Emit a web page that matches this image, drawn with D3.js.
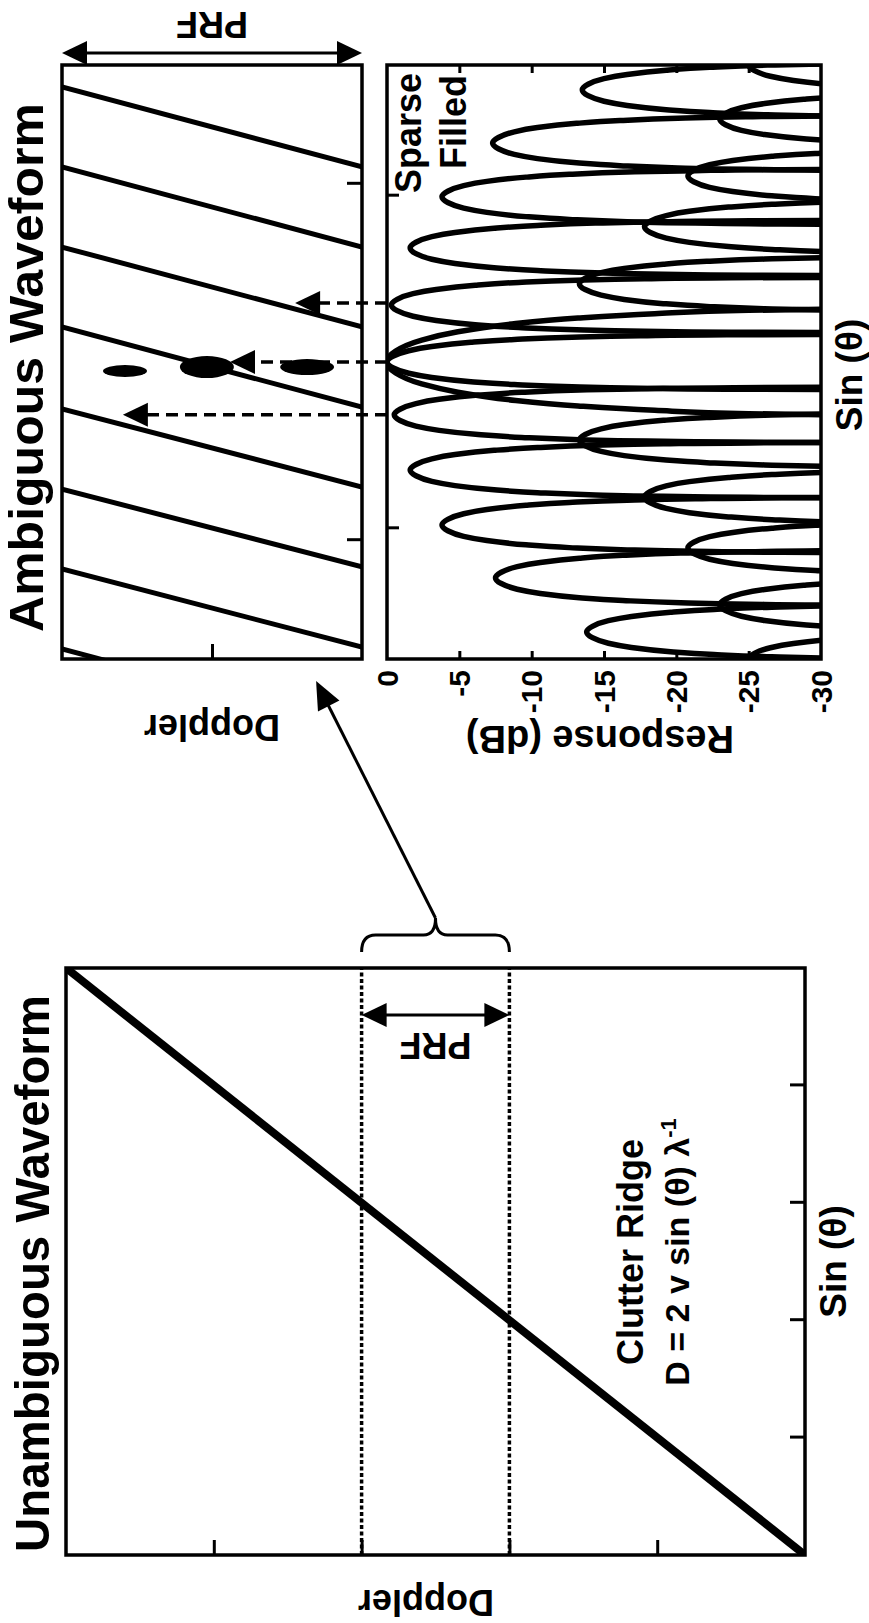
<!DOCTYPE html>
<html>
<head>
<meta charset="utf-8">
<script src="https://cdn.jsdelivr.net/npm/d3@7"></script>
<style>
  body { margin: 0; background: #fff; }
  text { font-family: "Liberation Sans", Arial, Helvetica, sans-serif; font-weight: bold; fill: #000; }
</style>
</head>
<body>
<svg id="fig" width="869" height="1623"></svg>
<script>
// ---- data ----

// left panel, unambiguous waveform (normalised units)
var leftSinTicks = [-0.6, -0.2, 0.2, 0.6];
var leftDopTicks = [-0.6, -0.2, 0.2, 0.6];
var ridgeSin = [-1, 1];
var ridgeDop = [-1, 1];
var prfLimits = [0.2, -0.2];

// right panel, ambiguous waveform
var dopSinTicks = [-0.6, 0.6];
var respSinTicks = [-0.56, 0.56];
var dopMidTick = [0.5];
var dbTicks = [0, -5, -10, -15, -20, -25, -30];
// folded clutter ridges: sin(theta) where each one meets Doppler = PRF and Doppler = 0
var foldTopSin = [0.926, 0.657, 0.387, 0.118, -0.158, -0.428, -0.697, -0.966];
var foldBottomSin = [0.657, 0.387, 0.118, -0.152, -0.421, -0.69, -0.96, -1.236];
// blobs on the Doppler map
var blobSin = [-0.03, -0.017, -0.017];
var blobDop = [0.79, 0.517, 0.183];
// dashed arrows from the response peaks
var arrowSin = [0.199, 0, -0.178];
var arrowDop = [0.223, 0.44, 0.797];

// beam pattern lobes: centre (sin theta) and peak (dB)
var sparseSin = [0.916, 0.737, 0.556, 0.384, 0.192, 0, -0.178, -0.364, -0.549, -0.727, -0.909];
var sparseDb = [-13.5, -7.3, -3.8, -1.6, -0.3, 0, -0.5, -1.6, -3.8, -7.5, -13.8];
var filledSin = [1.0, 0.818, 0.626, 0.455, 0.263, 0, -0.263, -0.455, -0.626, -0.818, -1.0];
var filledDb = [-25, -23, -20.8, -17.8, -13.3, 0, -13.3, -17.8, -20.8, -23, -25];
var lobeHalfWidth = 0.095;
var mainHalfWidth = 0.185;
// outline of one lobe: fraction of half width -> dB below its peak
var lobeShape = [[0, 0], [0.2, -0.4], [0.4, -1.5], [0.55, -3.1], [0.7, -5.8], [0.8, -8.8], [0.88, -12.8], [0.93, -17.5], [0.965, -23.5], [0.99, -36]];
var mainShape = [[0, 0], [0.2, -0.6], [0.4, -2.4], [0.55, -4.9], [0.7, -8.9], [0.8, -13.2], [0.88, -18.5], [0.94, -25], [0.98, -35]];

// ---- drawing ----
var W = 869, H = 1623;
var svg = d3.select('#fig');
// figure is built landscape then turned a quarter turn, like the scan
var g = svg.append('g').attr('transform', 'translate(0,' + H + ') rotate(-90)');

function head(tip, from, len, hw) {
  var dx = tip[0] - from[0], dy = tip[1] - from[1];
  var L = Math.sqrt(dx * dx + dy * dy), ux = dx / L, uy = dy / L;
  var bx = tip[0] - ux * len, by = tip[1] - uy * len;
  return 'M' + tip[0] + ',' + tip[1] + 'L' + (bx - uy * hw) + ',' + (by + ux * hw) +
    'L' + (bx + uy * hw) + ',' + (by - ux * hw) + 'Z';
}

function frame(sel, x0, x1, y0, y1) {
  sel.append('rect').attr('x', Math.min(x0, x1)).attr('y', Math.min(y0, y1))
    .attr('width', Math.abs(x1 - x0)).attr('height', Math.abs(y1 - y0))
    .attr('fill', 'none').attr('stroke', '#000').attr('stroke-width', 3.5);
}

function cleanAxis(a) {
  a.select('.domain').remove();
  a.selectAll('line').attr('stroke', '#000').attr('stroke-width', 3);
}

// ===== Left panel =====
var sinL = d3.scaleLinear().domain([-1, 1]).range([68, 655]);
var dopL = d3.scaleLinear().domain([-1, 1]).range([805, 66]);
var left = g.append('g');

left.append('text').attr('x', sinL(-1) + 3).attr('y', 49)
  .attr('font-size', 49).attr('textLength', 557).attr('lengthAdjust', 'spacingAndGlyphs')
  .text('Unambiguous Waveform');

left.append('clipPath').attr('id', 'clipL').append('rect')
  .attr('x', sinL(-1)).attr('y', dopL(1)).attr('width', sinL(1) - sinL(-1)).attr('height', dopL(-1) - dopL(1));

// PRF band (dotted)
left.selectAll('.prf').data(prfLimits).enter().append('line')
  .attr('x1', sinL(-1)).attr('x2', sinL(1))
  .attr('y1', function(d) { return dopL(d); }).attr('y2', function(d) { return dopL(d); })
  .attr('stroke', '#000').attr('stroke-width', 3.5).attr('stroke-dasharray', '4,2.5');

// clutter ridge
left.append('path')
  .attr('d', d3.line()(ridgeSin.map(function(s, i) { return [sinL(s), dopL(ridgeDop[i])]; })))
  .attr('clip-path', 'url(#clipL)')
  .attr('stroke', '#000').attr('stroke-width', 8).attr('fill', 'none');

cleanAxis(left.append('g').attr('transform', 'translate(0,' + dopL(-1) + ')')
  .call(d3.axisBottom(sinL).tickValues(leftSinTicks).tickSize(-15).tickFormat('')));
cleanAxis(left.append('g').attr('transform', 'translate(' + sinL(-1) + ',0)')
  .call(d3.axisLeft(dopL).tickValues(leftDopTicks).tickSize(-15).tickFormat('')));
frame(left, sinL(-1), sinL(1), dopL(-1), dopL(1));

left.append('text').attr('transform', 'translate(33,' + 426 + ') rotate(-90)')
  .attr('text-anchor', 'middle').attr('font-size', 36).text('Doppler');
left.append('text').attr('x', (sinL(-1) + sinL(1)) / 2).attr('y', 846)
  .attr('text-anchor', 'middle').attr('font-size', 37).text('Sin (\u03B8)');

left.append('text').attr('x', 371).attr('y', 643).attr('text-anchor', 'middle')
  .attr('font-size', 36).text('Clutter Ridge');
var eq = left.append('text').attr('x', 371).attr('y', 689).attr('text-anchor', 'middle').attr('font-size', 34);
eq.append('tspan').text('D = 2 v sin (\u03B8) \u03BB');
eq.append('tspan').attr('dy', -13).attr('font-size', 22).text('-1');

// PRF arrow inside the panel
var prfX = sinL(1) - 47;
left.append('line').attr('x1', prfX).attr('x2', prfX)
  .attr('y1', dopL(prfLimits[0]) + 20).attr('y2', dopL(prfLimits[1]) - 20)
  .attr('stroke', '#000').attr('stroke-width', 3);
prfLimits.forEach(function(d, i) {
  var other = prfLimits[1 - i];
  left.append('path').attr('d', head([prfX, dopL(d)], [prfX, dopL(other)], 25, 12)).attr('fill', '#000');
});
left.append('text').attr('transform', 'translate(590,' + dopL(0) + ') rotate(-90)')
  .attr('text-anchor', 'middle').attr('font-size', 36).text('PRF');

// brace over the PRF band
var bA = dopL(prfLimits[0]), bB = dopL(prfLimits[1]), bM = (bA + bB) / 2;
var x0 = sinL(1) + 16, x1 = x0 + 17, x2 = x1 + 17;
left.append('path')
  .attr('d', 'M' + x0 + ',' + bA + 'Q' + x1 + ',' + bA + ' ' + x1 + ',' + (bA + 14) +
    'L' + x1 + ',' + (bM - 12) + 'Q' + x1 + ',' + bM + ' ' + x2 + ',' + bM +
    'Q' + x1 + ',' + bM + ' ' + x1 + ',' + (bM + 12) +
    'L' + x1 + ',' + (bB - 14) + 'Q' + x1 + ',' + bB + ' ' + x0 + ',' + bB)
  .attr('fill', 'none').attr('stroke', '#000').attr('stroke-width', 3);

// ===== Right panel =====
var xR = d3.scaleLinear().domain([-1, 1]).range([964, 1558]);
var dR = d3.scaleLinear().domain([0, 1]).range([362, 62]);
var dbS = d3.scaleLinear().domain([0, -30]).range([387, 821]);
var right = g.append('g');

right.append('text').attr('x', xR(-1) + 27).attr('y', 43)
  .attr('font-size', 49).attr('textLength', 529).attr('lengthAdjust', 'spacingAndGlyphs')
  .text('Ambiguous Waveform');

// arrow from the brace to the folded Doppler map
var bTip = [x2, bM];
var aTip = [xR(-1) - 22, dR(0.153)];
right.append('line').attr('x1', bTip[0]).attr('y1', bTip[1])
  .attr('x2', aTip[0] - 20).attr('y2', aTip[1] + 10)
  .attr('stroke', '#000').attr('stroke-width', 3);
right.append('path').attr('d', head(aTip, bTip, 28, 12)).attr('fill', '#000');

// -- Doppler map --
right.append('clipPath').attr('id', 'clipD').append('rect')
  .attr('x', xR(-1)).attr('y', dR(1)).attr('width', xR(1) - xR(-1)).attr('height', dR(0) - dR(1));

right.append('g').attr('clip-path', 'url(#clipD)')
  .selectAll('line').data(foldTopSin).enter().append('line')
  .attr('x1', function(d, i) { return xR(foldBottomSin[i]); }).attr('y1', dR(0))
  .attr('x2', function(d) { return xR(d); }).attr('y2', dR(1))
  .attr('stroke', '#000').attr('stroke-width', 5);

var blobR = [[6, 22], [11, 27], [8, 27]];
right.selectAll('.blob').data(blobSin).enter().append('ellipse')
  .attr('cx', function(d) { return xR(d); })
  .attr('cy', function(d, i) { return dR(blobDop[i]); })
  .attr('rx', function(d, i) { return blobR[i][0]; })
  .attr('ry', function(d, i) { return blobR[i][1]; })
  .attr('fill', '#000');

cleanAxis(right.append('g').attr('transform', 'translate(0,' + dR(0) + ')')
  .call(d3.axisBottom(xR).tickValues(dopSinTicks).tickSize(-15).tickFormat('')));
cleanAxis(right.append('g').attr('transform', 'translate(' + xR(-1) + ',0)')
  .call(d3.axisLeft(dR).tickValues(dopMidTick).tickSize(-15).tickFormat('')));
frame(right, xR(-1), xR(1), dR(0), dR(1));

right.append('text').attr('transform', 'translate(908,' + dR(0.5) + ') rotate(-90)')
  .attr('text-anchor', 'middle').attr('font-size', 36).text('Doppler');

// PRF arrow above the map
var prfX2 = xR(1) + 12;
right.append('line').attr('x1', prfX2).attr('x2', prfX2)
  .attr('y1', dR(1) + 20).attr('y2', dR(0) - 20)
  .attr('stroke', '#000').attr('stroke-width', 3);
right.append('path').attr('d', head([prfX2, dR(1)], [prfX2, dR(0)], 25, 12)).attr('fill', '#000');
right.append('path').attr('d', head([prfX2, dR(0)], [prfX2, dR(1)], 25, 12)).attr('fill', '#000');
right.append('text').attr('transform', 'translate(1611,' + dR(0.5) + ') rotate(-90)')
  .attr('text-anchor', 'middle').attr('font-size', 36).text('PRF');

// dashed arrows
arrowSin.forEach(function(s, i) {
  var tip = [xR(s), dR(arrowDop[i])];
  right.append('line').attr('x1', tip[0]).attr('x2', tip[0])
    .attr('y1', dbS(0)).attr('y2', tip[1] + 22)
    .attr('stroke', '#000').attr('stroke-width', 3.5).attr('stroke-dasharray', '12,7');
  right.append('path').attr('d', head(tip, [tip[0], dbS(0)], 25, 12)).attr('fill', '#000');
});

// -- response --
right.append('clipPath').attr('id', 'clipR').append('rect')
  .attr('x', xR(-1)).attr('y', dbS(0)).attr('width', xR(1) - xR(-1)).attr('height', dbS(-30) - dbS(0));

var lobeLine = d3.line().x(function(d) { return xR(d[0]); }).y(function(d) { return dbS(d[1]); })
  .curve(d3.curveMonotoneX);

function lobe(c, peak, hw, shape) {
  var pts = [];
  for (var i = shape.length - 1; i >= 1; i--) pts.push([c - shape[i][0] * hw, peak + shape[i][1]]);
  for (var j = 0; j < shape.length; j++) pts.push([c + shape[j][0] * hw, peak + shape[j][1]]);
  return lobeLine(pts);
}

var lobes = right.append('g').attr('clip-path', 'url(#clipR)');
lobes.selectAll('.sp').data(sparseSin).enter().append('path')
  .attr('d', function(d, i) { return lobe(d, sparseDb[i], lobeHalfWidth, lobeShape); })
  .attr('fill', 'none').attr('stroke', '#000').attr('stroke-width', 5.5);
lobes.selectAll('.fl').data(filledSin).enter().append('path')
  .attr('d', function(d, i) {
    return d === 0 ? lobe(d, filledDb[i], mainHalfWidth, mainShape) : lobe(d, filledDb[i], lobeHalfWidth, lobeShape);
  })
  .attr('fill', 'none').attr('stroke', '#000').attr('stroke-width', 5.5);

var dbInner = dbTicks.slice(1, -1);
cleanAxis(right.append('g').attr('transform', 'translate(' + xR(-1) + ',0)')
  .call(d3.axisLeft(dbS).tickValues(dbInner).tickSize(-8).tickFormat('')));
cleanAxis(right.append('g').attr('transform', 'translate(' + xR(1) + ',0)')
  .call(d3.axisRight(dbS).tickValues(dbInner).tickSize(-8).tickFormat('')));
cleanAxis(right.append('g').attr('transform', 'translate(0,' + dbS(0) + ')')
  .call(d3.axisTop(xR).tickValues(respSinTicks).tickSize(-12).tickFormat('')));
frame(right, xR(-1), xR(1), dbS(0), dbS(-30));

right.selectAll('.dbl').data(dbTicks).enter().append('text')
  .attr('x', xR(-1) - 11).attr('y', function(d) { return dbS(d); }).attr('dy', '0.35em')
  .attr('text-anchor', 'end').attr('font-size', 30).text(function(d) { return d; });

right.append('text').attr('transform', 'translate(897,' + 600 + ') rotate(-90)')
  .attr('text-anchor', 'middle').attr('font-size', 38).text('Response (dB)');
right.append('text').attr('x', 1248).attr('y', 862).attr('text-anchor', 'middle')
  .attr('font-size', 37).text('Sin (\u03B8)');

right.append('text').attr('x', 1550).attr('y', 421).attr('text-anchor', 'end')
  .attr('font-size', 36).text('Sparse');
right.append('text').attr('x', 1548).attr('y', 466).attr('text-anchor', 'end')
  .attr('font-size', 36).text('Filled');
</script>
</body>
</html>
